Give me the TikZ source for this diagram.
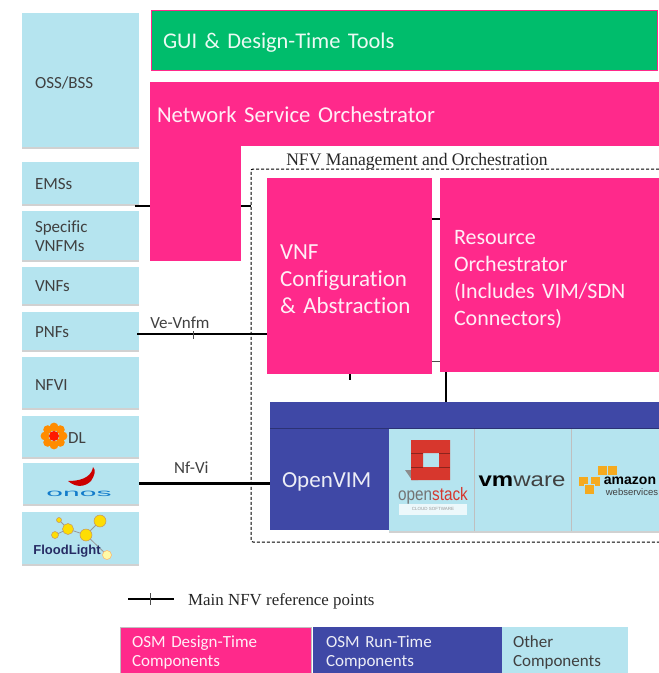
\documentclass[tikz,border=0pt]{standalone}
\usepackage{fontspec}
\setmainfont{Carlito}[Ligatures=NoCommon,WordSpace=0.8]
\newfontfamily\timesfont{Liberation Serif}
\newfontfamily\logofont{Liberation Sans}
\usetikzlibrary{shadows,positioning,calc}
\definecolor{osmpink}{RGB}{255,41,139}
\definecolor{osmblue}{RGB}{63,72,166}
\definecolor{other}{RGB}{181,228,239}
\definecolor{gui}{RGB}{0,189,108}
\definecolor{labelgray}{RGB}{64,64,64}
\definecolor{osred}{RGB}{215,55,45}
\definecolor{awsorange}{RGB}{245,170,30}
\tikzset{y=-1pt}
\tikzset{x=1pt}
\tikzset{textdown/.style={execute at begin node={\rule{0pt}{\dimexpr.7em+#1\relax}}}}
\tikzstyle{plain}=[rectangle,inner sep=0pt,outer sep=0pt,align=left]
\tikzstyle{other}=[plain,fill=other,text=labelgray,font=\fontsize{17}{19}\selectfont,drop shadow={shadow xshift=0pt,shadow yshift=-1.5pt,fill=black!45,opacity=.4}]
\tikzstyle{design}=[plain,fill=osmpink,text=white!92!osmpink]
\tikzstyle{runtime}=[plain,fill=osmblue,text=white!90!osmblue]
\tikzstyle{refline}=[line width=2.8pt,black]
\tikzstyle{thinline}=[line width=.8pt,black!70]
\tikzstyle{legendtext}=[font=\fontsize{17}{19}\selectfont,textdown=4pt]
\newcommand{\otherbox}[7][1pt]{
  \draw (#2,#3) node[other,anchor=north west,minimum width=#4,minimum height=#5,text width=#4-26pt,textdown=#1] (#6) {#7};
}
\begin{document}
\begin{tikzpicture}
  \useasboundingbox (0,0) rectangle (659,673);
  %% Left column
  \otherbox[5pt]{22}{13}{117pt}{134pt}{oss}{OSS/BSS}
  \otherbox{22}{162}{117pt}{42pt}{ems}{EMSs}
  \otherbox{22}{211}{117pt}{49pt}{vnfms}{Specific\\VNFMs}
  \otherbox{22}{267}{117pt}{37pt}{vnfs}{VNFs}
  \otherbox{22}{312}{117pt}{38pt}{pnfs}{PNFs}
  \otherbox[5pt]{22}{357}{117pt}{51pt}{nfvi}{NFVI}
  \otherbox{22}{416}{117pt}{41pt}{odl}{}
  \otherbox{23}{463}{116pt}{41pt}{onos}{}
  \otherbox{22}{512}{117pt}{52pt}{floodlight}{}

  %% Top blocks
  \draw (151,10) node[plain,anchor=north west,fill=gui,draw=osmpink,line width=.6pt,minimum width=506pt,minimum height=60pt,text=white!92!gui,font=\fontsize{22.4}{26}\selectfont,text width=482pt,textdown=6pt] (guitools) {GUI \& Design-Time Tools};
  \draw (150,145) node[design,anchor=north west,minimum width=91pt,minimum height=116pt] (nsoleg) {};
  \draw (150,82) node[design,anchor=north west,minimum width=509pt,minimum height=64pt,font=\fontsize{22.7}{26}\selectfont,text width=495pt,textdown=2pt] (nso) {Network Service Orchestrator};

  %% MANO area
  \draw[densely dashed,line width=1pt,black,rounded corners=2pt] (659,169) coordinate (manotr) -- (251,169) -- (251,542) -- (659,542) coordinate (manobr);
  \draw (417,161) node[font=\timesfont\fontsize{17.6}{20}\selectfont,inner sep=0pt,text=black!85] (manolabel) {NFV Management and Orchestration};
  \draw (267,178) node[design,anchor=north west,minimum width=165pt,minimum height=196pt,font=\fontsize{23}{27}\selectfont,text width=139pt,textdown=6pt] (vnfca) {VNF\\Configuration\\\& Abstraction};
  \draw (440,178) node[design,anchor=north west,minimum width=219pt,minimum height=194pt,font=\fontsize{22}{27}\selectfont,text width=191pt,textdown=7pt] (ro) {Resource\\Orchestrator\\(Includes VIM/SDN\\Connectors)};

  %% VIM row
  \draw (270,402) node[runtime,anchor=north west,minimum width=389pt,minimum height=26pt] (vimtop) {};
  \draw (270,428) node[runtime,anchor=north west,minimum width=119pt,minimum height=102pt,font=\fontsize{23}{26}\selectfont,text width=95pt,textdown=4pt] (openvim) {OpenVIM};
  \draw (389,429) node[other,anchor=north west,minimum width=85pt,minimum height=102pt] (openstack) {};
  \draw (474,429) node[other,anchor=north west,minimum width=97pt,minimum height=102pt] (vmware) {};
  \draw (571,429) node[other,anchor=north west,minimum width=88pt,minimum height=102pt] (amazon) {};
  \draw[osmblue!70!black,line width=1pt] (vimtop.south west) -- (vimtop.south east);
  \draw[black!25,line width=.6pt] (vmware.north west) -- (vmware.south west);
  \draw[black!25,line width=.6pt] (amazon.north west) -- (amazon.south west);

  %% Reference points
  \coordinate (emstap) at (135,206);
  \coordinate (manotap) at (251,206);
  \coordinate (rotapa) at (440,219);
  \coordinate (rotapb) at (440,361);
  \coordinate (pnftap) at (137,334);
  \coordinate (stub) at (350,380);
  \draw[refline] (emstap) -- (emstap -| nsoleg.west);
  \draw[refline] (manotap -| nsoleg.east) -- (manotap);
  \draw[refline] (rotapa -| vnfca.east) -- (rotapa);
  \draw[thinline] (rotapb -| vnfca.east) -- (rotapb);
  \draw[refline] (pnftap) -- (pnftap -| vnfca.west) node[pos=.33,above=1pt,text=labelgray,font=\fontsize{17}{19}\selectfont] (vevnfm) {Ve-Vnfm};
  \draw[thinline] (193,331) coordinate (tickt) -- (193,339) coordinate (tickb);
  \draw[refline] (stub |- vnfca.south) -- (stub);
  \draw[refline] (446,372) coordinate (roout) -- (roout |- vimtop.north);
  \draw[refline] (onos.east) -- (onos.east -| openvim.west) node[pos=.4,above=5pt,text=labelgray,font=\fontsize{17}{19}\selectfont] (nfvil) {Nf-Vi};

  %% ODL logo
  \foreach \a in {0,45,...,315}
    \fill[orange!90!yellow] ($(54,436)+(\a:9)$) circle (4.4);
  \fill[red!80!orange] (54,436) circle (5);
  \draw (77,438) node[text=labelgray,font=\fontsize{17}{19}\selectfont,inner sep=0pt] (odltext) {DL};

  %% ONOS logo
  \fill[red!80!black] (68,481) .. controls (76,488) and (85,487) .. (91,481) .. controls (95,475) and (96,470) .. (93,467) .. controls (92,474) and (86,481) .. (68,481) -- cycle;
  \draw (79,494) node[text=cyan!60!blue,font=\logofont\fontsize{10}{12}\selectfont,xscale=3,inner sep=0pt] (onostext) {onos};

  %% FloodLight logo
  \draw[black!40,line width=.8pt] (59,520) -- (68,529) -- (86,535) -- (100,521) (55,535) -- (68,529) (86,535) -- (107,555);
  \foreach \cx/\cy/\cr in {59/520/2.5,68/529/5.5,55/535/3.5,86/535/6,100/521/6}
    \draw[fill=yellow!80!orange,draw=orange!60!black!60,line width=.5pt] (\cx,\cy) circle (\cr);
  \draw[fill=yellow!35,draw=orange!60,line width=.5pt] (107,555) circle (4.5);
  \draw (67,551) node[text=osmblue!60!black,font=\logofont\bfseries\fontsize{13}{15}\selectfont,inner sep=0pt] (fltext) {FloodLight};

  %% OpenStack logo
  \fill[black!45] (405,470) -- (412,480) -- (418,480) -- (418,470) -- cycle;
  \fill[osred,even odd rule] (411,440) rectangle (450,480) (423,453) rectangle (439,467);
  \draw[osred!65!black,line width=.5pt] (411,453) -- (423,453) (439,453) -- (450,453) (411,467) -- (423,467) (439,467) -- (450,467);
  \draw (433,496) node[inner sep=0pt,xscale=.85,font=\logofont\fontsize{18}{20}\selectfont] (ostext) {\textcolor{black!55}{open}\textcolor{osred}{stack}};
  \draw (433,509) node[fill=white!75!other,minimum width=68pt,minimum height=11pt,inner sep=0pt,text=black!40,font=\logofont\fontsize{4.5}{5}\selectfont] (ostag) {CLOUD SOFTWARE};

  %% vmware logo
  \draw (522,481) node[inner sep=0pt,font=\logofont\fontsize{20}{22}\selectfont,xscale=1.2] (vmtext) {\textbf{vm}\textcolor{black!75}{ware}};

  %% amazon logo
  \foreach \cx/\cy in {583/481,595/481,589/489,602/470,612/470}
    \draw[fill=awsorange,draw=other,line width=.5pt] (\cx-5,\cy-5) rectangle (\cx+5,\cy+5);
  \draw (630,481) node[inner sep=0pt,font=\logofont\bfseries\fontsize{14}{15}\selectfont] (amztext) {amazon};
  \draw (632,492) node[inner sep=0pt,text=black!75,font=\logofont\fontsize{9.5}{10}\selectfont] (awstext) {webservices};

  %% Legend
  \coordinate (legl) at (128,599);
  \coordinate (legr) at (174,599);
  \draw[refline] (legl) -- (legr);
  \draw[thinline] (150,593) coordinate (legt) -- (150,605) coordinate (legb);
  \draw (188,601) node[anchor=west,inner sep=0pt,font=\timesfont\fontsize{16.9}{20}\selectfont,text=black!85] (legline) {Main NFV reference points};
  \draw (120,627) node[design,anchor=north west,minimum width=191pt,minimum height=46pt,draw=black!25,line width=1pt,text width=167pt,legendtext] (legdesign) {OSM Design-Time\\Components};
  \draw (313,627) node[runtime,anchor=north west,minimum width=189pt,minimum height=46pt,text width=163pt,legendtext] (legrun) {OSM Run-Time\\Components};
  \draw (502,627) node[other,anchor=north west,minimum width=126pt,minimum height=46pt,text width=104pt,legendtext] (legother) {Other\\Components};
\end{tikzpicture}
\end{document}
